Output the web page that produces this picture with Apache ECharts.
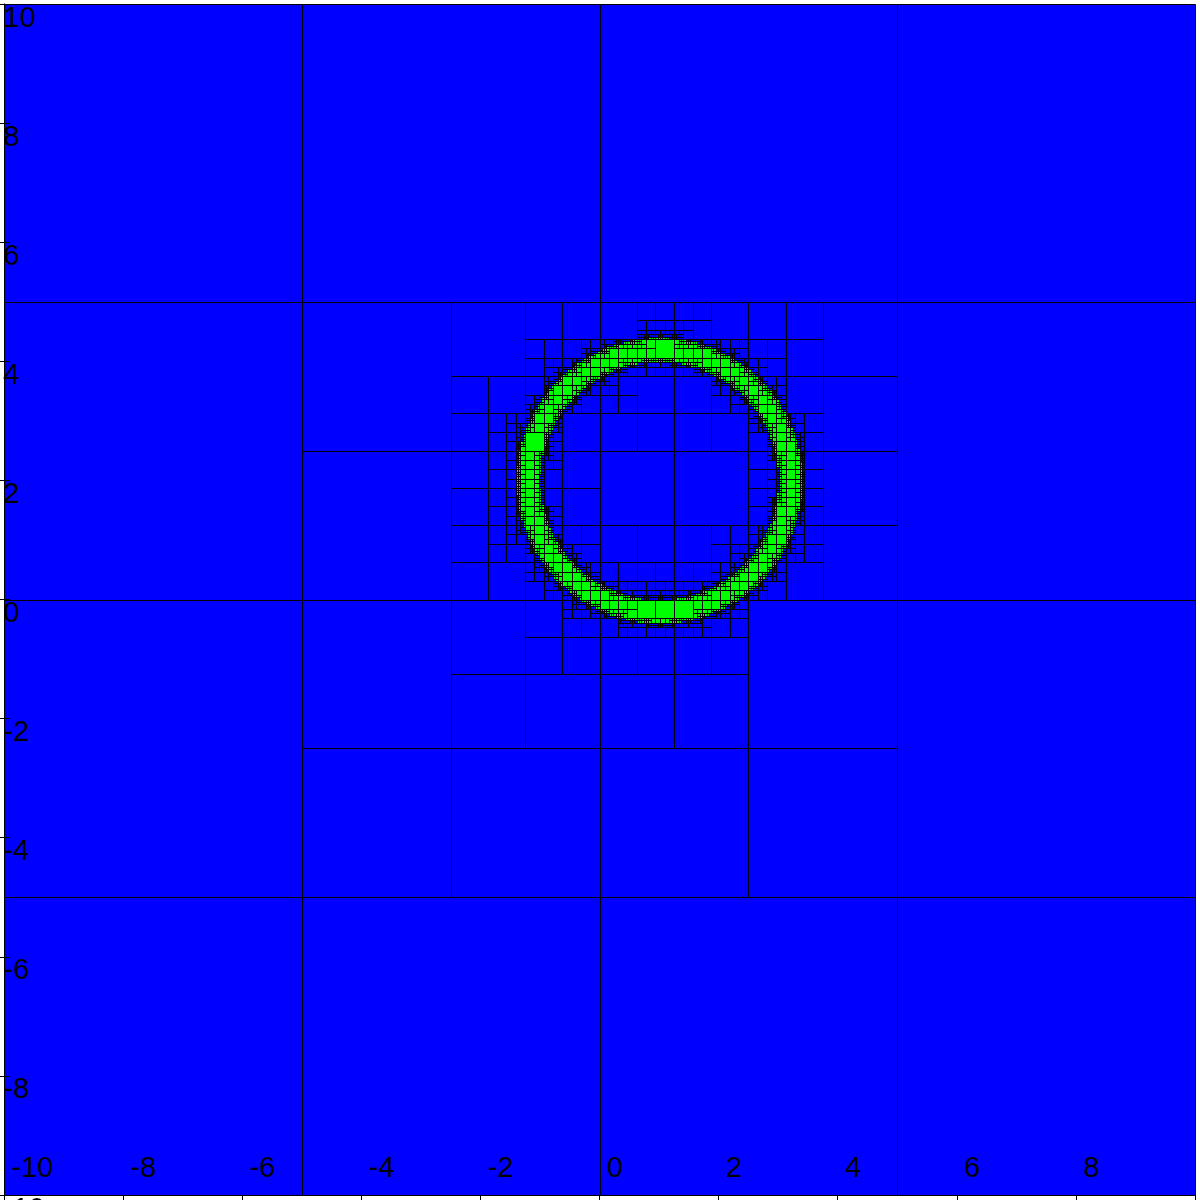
<!DOCTYPE html>
<html>
<head>
<meta charset="utf-8">
<script src="https://cdn.jsdelivr.net/npm/echarts@6/dist/echarts.min.js"></script>
<style>
html,body{margin:0;padding:0;background:#ffffff;}
#chart{width:1200px;height:1200px;}
</style>
</head>
<body>
<div id="chart"></div>
<script>
// ---- values ----
const xTicks = [-10, -8, -6, -4, -2, 0, 2, 4, 6, 8, 10];
const yTicks = [-10, -8, -6, -4, -2, 0, 2, 4, 6, 8, 10];
const domainX = [-10, 10];
const domainY = [-10, 10];
const baseBlock = 5;          // coarse mesh block size
const maxRefine = 7;          // finest cell = 5 / 2^7
const ringCenter = [1.0, 2.0];
const ringRadii = [2.0, 2.4]; // inner, outer radius of the green ring
const cellColors = ['#0000ff', '#00ff00']; // 0 = outside ring, 1 = inside ring

// ---- build the adaptive mesh table from those values ----
function cutsCircle(x0, y0, x1, y1, r) {
  const cx = ringCenter[0], cy = ringCenter[1];
  const nx = Math.max(x0, Math.min(cx, x1));
  const ny = Math.max(y0, Math.min(cy, y1));
  const dmin = Math.hypot(nx - cx, ny - cy);
  const dmax = Math.max(
    Math.hypot(x0 - cx, y0 - cy), Math.hypot(x1 - cx, y0 - cy),
    Math.hypot(x0 - cx, y1 - cy), Math.hypot(x1 - cx, y1 - cy));
  return dmin < r && dmax > r;
}
function cellValue(x, y) {
  const d = Math.hypot(x - ringCenter[0], y - ringCenter[1]);
  return (d >= ringRadii[0] && d <= ringRadii[1]) ? 1 : 0;
}
const cells = [];
function refine(x0, y0, s, level) {
  const x1 = x0 + s, y1 = y0 + s;
  if (level < maxRefine && ringRadii.some(r => cutsCircle(x0, y0, x1, y1, r))) {
    const h = s / 2;
    refine(x0, y0, h, level + 1);
    refine(x0 + h, y0, h, level + 1);
    refine(x0, y0 + h, h, level + 1);
    refine(x0 + h, y0 + h, h, level + 1);
  } else {
    cells.push([x0, y0, x1, y1, cellValue((x0 + x1) / 2, (y0 + y1) / 2)]);
  }
}
for (let bx = domainX[0]; bx < domainX[1]; bx += baseBlock) {
  for (let by = domainY[0]; by < domainY[1]; by += baseBlock) {
    refine(bx, by, baseBlock, 0);
  }
}

function renderCell(params, api) {
  const p0 = api.coord([api.value(0), api.value(1)]);
  const p1 = api.coord([api.value(2), api.value(3)]);
  const xa = Math.round(p0[0]), xb = Math.round(p1[0]);
  const ya = Math.round(p1[1]), yb = Math.round(p0[1]);
  const children = [];
  if (xb - xa > 1 && yb - ya > 1) {
    children.push({
      type: 'rect', silent: true,
      shape: {x: xa + 1, y: ya + 1, width: xb - xa - 1, height: yb - ya - 1},
      style: {fill: cellColors[api.value(4)], stroke: null, lineWidth: 0}
    });
  }
  children.push({
    type: 'rect', silent: true,
    shape: {x: xa + 0.5, y: ya + 0.5, width: xb - xa, height: yb - ya},
    style: {fill: null, stroke: '#000000', lineWidth: 1}
  });
  return {type: 'group', children: children};
}

const labelFont = {color: '#000000', fontSize: 29, fontFamily: 'Liberation Sans'};

const chart = echarts.init(document.getElementById('chart'), null, {renderer: 'canvas'});
chart.setOption({
  animation: false,
  backgroundColor: '#ffffff',
  grid: {left: 4, right: 5, top: 4, bottom: 5, containLabel: false, outerBoundsMode: 'none'},
  xAxis: [{
    type: 'value', min: xTicks[0], max: xTicks[xTicks.length - 1],
    interval: xTicks[1] - xTicks[0], position: 'bottom', z: 10,
    axisLine: {show: true, onZero: false, lineStyle: {color: '#000', width: 1}},
    axisTick: {show: true, inside: false, length: 5, lineStyle: {color: '#000', width: 1}},
    axisLabel: Object.assign({
      inside: true, margin: 12, align: 'left', verticalAlign: 'bottom',
      padding: [0, 0, 0, 7], showMinLabel: true, showMaxLabel: true, hideOverlap: false,
      formatter: v => String(v)
    }, labelFont),
    splitLine: {show: false}
  }],
  yAxis: [{
    type: 'value', min: yTicks[0], max: yTicks[yTicks.length - 1],
    interval: yTicks[1] - yTicks[0], position: 'left', z: 10,
    axisLine: {show: true, onZero: false, lineStyle: {color: '#000', width: 1}},
    axisTick: {show: true, inside: false, length: 4, lineStyle: {color: '#000', width: 1}},
    axisLabel: Object.assign({
      inside: true, margin: -1, align: 'left', verticalAlign: 'top',
      showMinLabel: true, showMaxLabel: true, hideOverlap: false,
      formatter: v => String(v)
    }, labelFont),
    splitLine: {show: false}
  }, {
    type: 'value', min: yTicks[0], max: yTicks[yTicks.length - 1],
    interval: yTicks[1] - yTicks[0], position: 'left', offset: 0, z: 10,
    axisLine: {show: false, onZero: false},
    axisTick: {show: true, inside: true, length: 6, lineStyle: {color: '#000', width: 1}},
    axisLabel: {show: false},
    splitLine: {show: false}
  }],
  series: [{
    type: 'custom', name: 'cells', renderItem: renderCell, data: cells,
    xAxisIndex: 0, yAxisIndex: 0, progressive: 0, progressiveThreshold: 1e9,
    animation: false, silent: true, z: 2
  }]
});
</script>
</body>
</html>
